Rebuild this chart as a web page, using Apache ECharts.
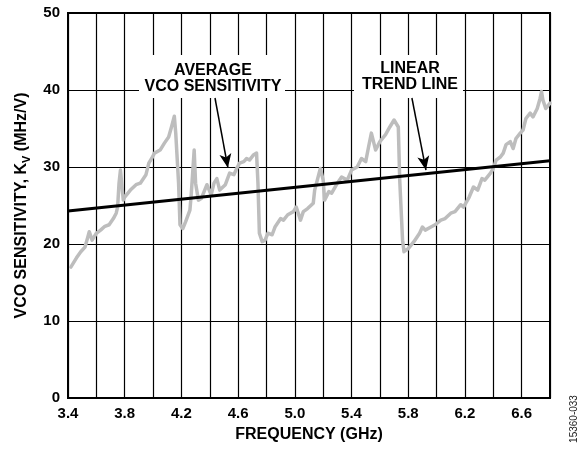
<!DOCTYPE html>
<html>
<head>
<meta charset="utf-8">
<script src="https://cdn.jsdelivr.net/npm/echarts@6/dist/echarts.min.js"></script>
<style>
html,body{margin:0;padding:0;background:#fff;}
#chart{width:587px;height:449px;}
</style>
</head>
<body>
<div id="chart"></div>
<script>
// Measured VCO sensitivity (gray trace)
var freqGHz = [3.42,3.46,3.49,3.52,3.54,3.55,3.57,3.60,3.63,3.66,3.69,3.72,3.74,3.75,3.76,3.77,3.79,3.80,3.84,3.88,3.91,3.95,3.97,
  3.99,4.01,4.05,4.08,4.11,4.13,4.15,4.16,4.18,4.19,4.21,4.23,4.26,4.27,4.29,4.30,4.32,4.34,4.36,4.38,4.41,4.43,4.45,4.47,4.51,4.54,
  4.57,4.59,4.61,4.64,4.66,4.68,4.71,4.73,4.74,4.75,4.77,4.79,4.81,4.84,4.86,4.90,4.92,4.95,4.99,5.01,5.04,5.06,5.09,5.13,
  5.14,5.18,5.20,5.21,5.24,5.26,5.30,5.33,5.37,5.40,5.44,5.47,5.50,5.52,5.54,5.57,5.60,5.64,5.67,5.70,
  5.71,5.73,5.74,5.76,5.77,5.80,5.84,5.88,5.90,5.92,5.96,5.99,6.03,6.06,6.10,6.13,6.17,6.19,6.23,6.26,
  6.27,6.29,6.32,6.34,6.38,6.40,6.42,6.45,6.47,6.49,6.52,6.54,6.56,6.59,6.61,6.63,6.66,6.68,6.71,6.73,6.74,6.75,6.77,6.80];
var sensitivity = [17.0,18.2,19.0,19.6,20.9,21.6,20.5,21.4,21.8,22.3,22.5,23.3,24.0,24.8,27.9,29.6,25.7,26.1,27.0,27.7,27.9,29.0,30.5,
  31.1,31.8,32.2,33.1,33.9,35.2,36.6,34.4,27.9,22.5,22.0,22.9,24.4,26.6,32.2,27.9,25.7,25.9,26.8,27.7,26.4,27.9,28.5,27.0,27.7,29.2,
  29.0,29.8,30.5,30.7,31.1,30.9,31.6,31.8,27.9,21.4,20.3,20.5,21.4,21.2,22.2,23.3,23.1,23.8,24.2,24.8,23.1,24.2,24.6,25.3,
  27.0,29.8,28.3,25.7,26.8,26.6,27.9,28.7,28.3,29.6,30.0,31.1,30.7,32.6,34.4,32.2,33.3,34.2,35.2,36.1,
  35.9,35.2,28.3,20.5,19.0,19.4,20.3,21.4,22.2,21.8,22.2,22.5,23.1,23.3,24.0,24.2,25.1,24.8,26.1,27.4,
  27.4,27.0,28.5,28.3,29.2,29.8,30.9,31.3,31.8,32.9,33.3,32.4,33.7,34.4,34.8,36.3,37.0,36.5,37.6,38.9,39.8,38.7,37.6,38.3];
// Linear trend line end points
var trendFreq = [3.4, 6.8];
var trendValue = [24.3, 30.8];
// Annotation arrows: [startFreq, startValue, endFreq, endValue]
var avgArrow = [4.437, 38.96, 4.528, 29.9];
var trendArrow = [5.826, 38.96, 5.925, 29.6];
// Axis ticks
var xMin = 3.4, xMax = 6.8, xStep = 0.2;
var yMin = 0, yMax = 50, yStep = 10;

var FONT = '"Liberation Sans", Arial, sans-serif';
var curve = freqGHz.map(function (f, i) { return [f, sensitivity[i]]; });
var trend = trendFreq.map(function (f, i) { return [f, trendValue[i]]; });

var chart = echarts.init(document.getElementById('chart'));
chart.setOption({
  animation: false,
  backgroundColor: '#fff',
  grid: { left: 68, right: 37, top: 13, bottom: 51, show: true, borderColor: '#000', borderWidth: 2, backgroundColor: 'transparent' },
  xAxis: {
    type: 'value', min: xMin, max: xMax, interval: xStep,
    name: 'FREQUENCY (GHz)', nameLocation: 'middle', nameGap: 29,
    nameTextStyle: { fontFamily: FONT, fontWeight: 'bold', fontSize: 16, color: '#000' },
    axisLine: { show: true, lineStyle: { color: '#000', width: 2 } },
    axisTick: { show: false },
    axisLabel: {
      margin: 8, fontFamily: FONT, fontWeight: 'bold', fontSize: 15, color: '#000',
      formatter: function (v) {
        var k = Math.round(v * 10) - 34;
        return (k % 4 === 0) ? v.toFixed(1) : '';
      }
    },
    splitLine: { show: true, lineStyle: { color: '#000', width: 1.2 } }
  },
  yAxis: {
    type: 'value', min: yMin, max: yMax, interval: yStep,
    name: '{a|VCO SENSITIVITY, K}{s|V}{a| (MHz/V)}', nameLocation: 'middle', nameGap: 36,
    nameTextStyle: {
      fontFamily: FONT, fontWeight: 'bold', fontSize: 16, color: '#000',
      rich: {
        a: { fontFamily: FONT, fontWeight: 'bold', fontSize: 16, color: '#000', lineHeight: 20 },
        s: { fontFamily: FONT, fontWeight: 'bold', fontSize: 11, color: '#000', lineHeight: 11, verticalAlign: 'bottom' }
      }
    },
    axisLine: { show: true, lineStyle: { color: '#000', width: 2 } },
    axisTick: { show: false },
    axisLabel: { margin: 8, fontFamily: FONT, fontWeight: 'bold', fontSize: 15, color: '#000' },
    splitLine: { show: true, lineStyle: { color: '#000', width: 1.2 } }
  },
  graphic: [
    { type: 'rect', z: 1, shape: { x: 139, y: 55, width: 146, height: 43 }, style: { fill: '#fff' } },
    { type: 'rect', z: 1, shape: { x: 354, y: 55, width: 109, height: 43 }, style: { fill: '#fff' } },
    { type: 'text', z: 1, x: 213, y: 71, style: { text: 'AVERAGE', font: 'bold 16px ' + FONT, fill: '#000', textAlign: 'center', textVerticalAlign: 'middle' } },
    { type: 'text', z: 1, x: 213, y: 87, style: { text: 'VCO SENSITIVITY', font: 'bold 16px ' + FONT, fill: '#000', textAlign: 'center', textVerticalAlign: 'middle' } },
    { type: 'text', z: 1, x: 410, y: 69, style: { text: 'LINEAR', font: 'bold 16px ' + FONT, fill: '#000', textAlign: 'center', textVerticalAlign: 'middle' } },
    { type: 'text', z: 1, x: 410, y: 85, style: { text: 'TREND LINE', font: 'bold 16px ' + FONT, fill: '#000', textAlign: 'center', textVerticalAlign: 'middle' } },
    { type: 'text', z: 1, x: 574, y: 419, rotation: Math.PI / 2, style: { text: '15360-033', font: '10px ' + FONT, fill: '#222', textAlign: 'center', textVerticalAlign: 'middle' } }
  ],
  series: [
    {
      type: 'line', data: curve, showSymbol: false, symbol: 'none', z: 3,
      lineStyle: { color: '#bdbdbd', width: 3.5, join: 'round', cap: 'round' }
    },
    {
      type: 'line', data: trend, showSymbol: false, symbol: 'none', z: 4,
      lineStyle: { color: '#000', width: 3 },
      markLine: {
        silent: true, symbol: ['none', 'arrow'], symbolSize: [9, 14],
        label: { show: false },
        lineStyle: { color: '#000', width: 1.5, type: 'solid' },
        data: [
          [{ coord: [avgArrow[0], avgArrow[1]] }, { coord: [avgArrow[2], avgArrow[3]] }],
          [{ coord: [trendArrow[0], trendArrow[1]] }, { coord: [trendArrow[2], trendArrow[3]] }]
        ]
      }
    }
  ]
});
</script>
</body>
</html>
